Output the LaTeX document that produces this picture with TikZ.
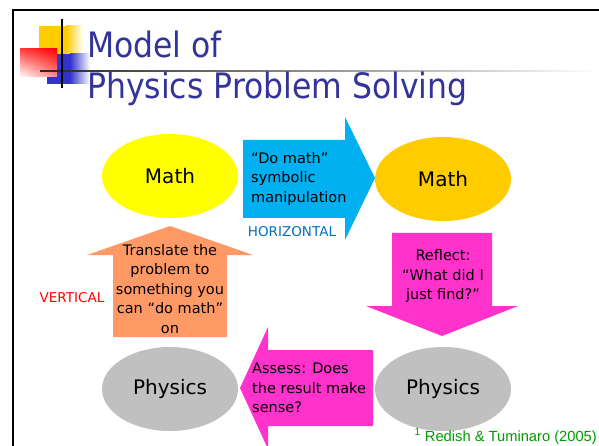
\documentclass[tikz,border=0pt]{standalone}
\usepackage{fontspec}
\setmainfont{DejaVu Sans}
\newfontfamily\titlefont{DejaVu Sans Condensed}
\newfontfamily\reffont{Liberation Sans}
\usetikzlibrary{positioning,shapes.geometric,shadings}
\definecolor{titleblue}{HTML}{333399}
\definecolor{mathyellow}{HTML}{FFFF00}
\definecolor{mathgold}{HTML}{FFCC00}
\definecolor{physgray}{HTML}{C0C0C0}
\definecolor{arrowblue}{HTML}{00B0F0}
\definecolor{arrowpink}{HTML}{FF33CC}
\definecolor{arroworange}{HTML}{FF9966}
\definecolor{horizblue}{HTML}{0070C0}
\definecolor{refgreen}{HTML}{009900}
\definecolor{decoblue}{HTML}{3333CC}
\definecolor{decoyellow}{HTML}{FFCC00}

\begin{document}
\begin{tikzpicture}[x=1pt, y=-1pt,
  oval/.style={ellipse, minimum width=136pt, minimum height=84pt, inner sep=0pt, font=\fontsize{20}{24}\selectfont},
  atext/.style={font=\fontsize{14.5}{19.5}\selectfont, inner sep=0pt},
  title/.style={anchor=base west, inner sep=0pt, text=titleblue, font=\titlefont\fontsize{35}{40}\selectfont}]
\useasboundingbox (0,0) rectangle (599,446);
% slide frame and corner decoration
\draw[line width=2pt] (13,446) -- (13,10) -- (599,10);
\fill[decoyellow] (39,26) rectangle (66,56);
\shade[left color=decoyellow, right color=white] (66,26) rectangle (83,56);
\fill[decoblue] (47,54) rectangle (70,84);
\shade[left color=decoblue, right color=white] (70,54) rectangle (90,84);
\shade[upper right=red, upper left=red!75, lower right=red!45, lower left=white] (20,49) rectangle (57,77);
\shade[left color=black!85, right color=white] (40,70.3) rectangle (599,71.8);
\draw[line width=2.5pt] (62,19) -- (62,88);
% title
\node[title] (t1) at (87,58) {Model of};
\node[title] (t2) at (87,99) {Physics Problem Solving};
% ovals
\node[oval, fill=mathyellow] (m1) at (170,176) {Math};
\node[oval, fill=mathgold] (m2) at (443,179) {Math};
\node[oval, fill=physgray] (p2) at (443,389) {Physics};
\node[oval, fill=physgray] (p1) at (170,389) {Physics};
% block arrows
\fill[arrowblue] (243,140) -- (345,140) -- (345,117) -- (375,178) -- (345,240) -- (345,218) -- (243,218) -- cycle;
\fill[arrowpink] (392,233) -- (492,233) -- (492,306) -- (518,306) -- (442,336) -- (366,306) -- (392,306) -- cycle;
\fill[arrowpink] (373,350) -- (268,350) -- (268,327) -- (240,388) -- (268,449) -- (268,426) -- (373,426) -- cycle;
\fill[arroworange] (113,337) -- (113,255) -- (87,255) -- (170,226) -- (253,255) -- (227,255) -- (227,337) -- cycle;
% arrow texts
\node[atext, align=left, anchor=west] (a1) at (251,179) {“Do math”\\symbolic\\manipulation};
\node[atext, align=center] (a2) at (443,276) {Reflect:\\“What did I\\just find?”};
\node[atext, align=left, anchor=west] (a3) at (252,388) {Assess: Does\\the result make\\sense?};
\node[atext, align=center] (a4) at (170,289) {Translate the\\problem to\\something you\\can “do math”\\on};
% side labels
\node[atext, text=horizblue, font=\fontsize{13.5}{16}\selectfont] (hz) at (292,232) {HORIZONTAL};
\node[atext, text=red, font=\fontsize{13.5}{16}\selectfont] (vt) at (72,298) {VERTICAL};
\node[anchor=base east, inner sep=0pt, text=refgreen, font=\reffont\fontsize{14.7}{17}\selectfont] (ref) at (597,441) {\textsuperscript{1} Redish \& Tuminaro (2005)};
\end{tikzpicture}
\end{document}
